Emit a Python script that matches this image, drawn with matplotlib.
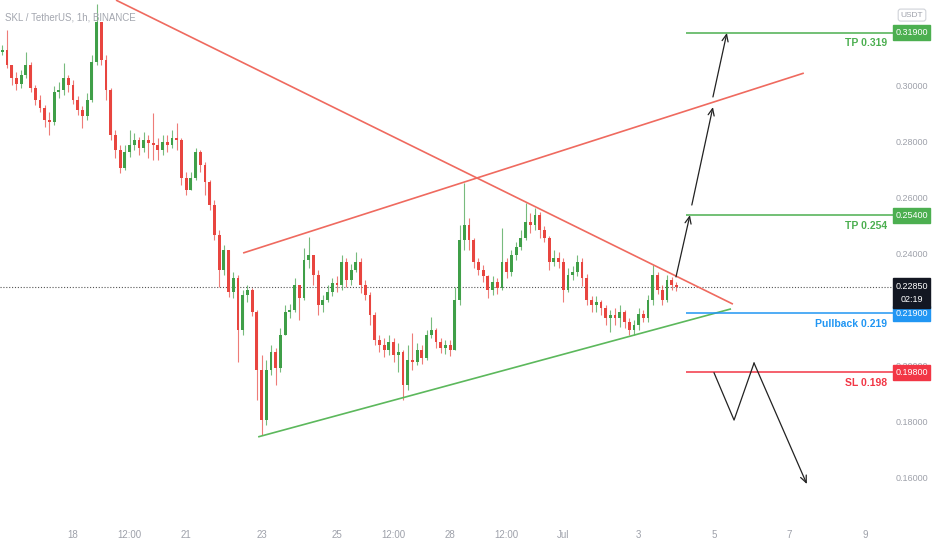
import matplotlib
matplotlib.use("Agg")
import matplotlib.pyplot as plt
from matplotlib.patches import Rectangle
import numpy as np

# SKL/USDT, resampled to 3h candles
# day numbers: Jun 18 = 18, Jul 1 = 31
start_day = 16.125
step = 0.125
first_open = 0.3120

closes = [0.3128, 0.3075, 0.3029, 0.3007, 0.3039, 0.3075, 0.2993, 0.2950, 0.2922, 0.2879,
          0.2872, 0.2979, 0.2986, 0.3029, 0.3004, 0.2950, 0.2914, 0.2893, 0.2950, 0.3085,
          0.3228, 0.3093, 0.2986, 0.2825, 0.2772, 0.2708, 0.2765, 0.2790, 0.2807, 0.2779,
          0.2807, 0.2797, 0.2790, 0.2772, 0.2800, 0.2790, 0.2814, 0.2807, 0.2672, 0.2630,
          0.2672, 0.2765, 0.2719, 0.2658, 0.2576, 0.2469, 0.2345, 0.2416, 0.2266, 0.2316,
          0.2131, 0.2256, 0.2273, 0.2195, 0.1989, 0.1810, 0.1989, 0.2052, 0.1996, 0.2113,
          0.2195, 0.2202, 0.2291, 0.2245, 0.2380, 0.2398, 0.2327, 0.2220, 0.2238, 0.2266,
          0.2298, 0.2291, 0.2373, 0.2309, 0.2345, 0.2373, 0.2291, 0.2256, 0.2184, 0.2095,
          0.2077, 0.2060, 0.2088, 0.2042, 0.2052, 0.1935, 0.2024, 0.2017, 0.2060, 0.2031,
          0.2113, 0.2131, 0.2088, 0.2067, 0.2077, 0.2060, 0.2238, 0.2451, 0.2505, 0.2451,
          0.2373, 0.2345, 0.2323, 0.2273, 0.2302, 0.2280, 0.2373, 0.2337, 0.2398, 0.2427,
          0.2459, 0.2515, 0.2505, 0.2540, 0.2487, 0.2459, 0.2373, 0.2387, 0.2373, 0.2273,
          0.2327, 0.2337, 0.2373, 0.2316, 0.2238, 0.2220, 0.2231, 0.2209, 0.2173, 0.2184,
          0.2173, 0.2195, 0.2159, 0.2131, 0.2149, 0.2188, 0.2173, 0.2238, 0.2327, 0.2273,
          0.2238, 0.2309, 0.2291, 0.2285]

highs = [0.3146, 0.3200, 0.3064, 0.3050, 0.3057, 0.3121, 0.3085, 0.3004, 0.2968, 0.2932,
         0.2907, 0.3000, 0.3014, 0.3082, 0.3039, 0.3021, 0.2964, 0.2929, 0.2975, 0.3111,
         0.3292, 0.3217, 0.3111, 0.2993, 0.2843, 0.2790, 0.2790, 0.2843, 0.2833, 0.2818,
         0.2836, 0.2825, 0.2904, 0.2814, 0.2825, 0.2825, 0.2843, 0.2868, 0.2814, 0.2694,
         0.2694, 0.2779, 0.2772, 0.2729, 0.2665, 0.2594, 0.2487, 0.2434, 0.2416, 0.2337,
         0.2327, 0.2273, 0.2291, 0.2280, 0.2202, 0.2042, 0.2024, 0.2077, 0.2067, 0.2138,
         0.2220, 0.2223, 0.2316, 0.2291, 0.2423, 0.2462, 0.2398, 0.2345, 0.2256, 0.2291,
         0.2316, 0.2323, 0.2398, 0.2387, 0.2366, 0.2409, 0.2387, 0.2309, 0.2266, 0.2195,
         0.2113, 0.2102, 0.2113, 0.2102, 0.2084, 0.2060, 0.2077, 0.2120, 0.2084, 0.2077,
         0.2131, 0.2177, 0.2138, 0.2102, 0.2095, 0.2095, 0.2284, 0.2505, 0.2654, 0.2530,
         0.2459, 0.2387, 0.2362, 0.2327, 0.2323, 0.2316, 0.2494, 0.2387, 0.2416, 0.2444,
         0.2487, 0.2583, 0.2548, 0.2565, 0.2551, 0.2501, 0.2466, 0.2416, 0.2409, 0.2387,
         0.2352, 0.2359, 0.2398, 0.2387, 0.2330, 0.2252, 0.2252, 0.2238, 0.2220, 0.2202,
         0.2209, 0.2220, 0.2202, 0.2173, 0.2166, 0.2209, 0.2202, 0.2256, 0.2362, 0.2337,
         0.2291, 0.2327, 0.2320, 0.2302]

lows = [0.3111, 0.3064, 0.3004, 0.2986, 0.2993, 0.3029, 0.2979, 0.2932, 0.2907, 0.2854,
        0.2825, 0.2861, 0.2957, 0.2968, 0.2979, 0.2936, 0.2897, 0.2850, 0.2879, 0.2943,
        0.3075, 0.3075, 0.2950, 0.2807, 0.2743, 0.2690, 0.2701, 0.2747, 0.2772, 0.2754,
        0.2765, 0.2743, 0.2736, 0.2736, 0.2754, 0.2765, 0.2779, 0.2772, 0.2647, 0.2612,
        0.2630, 0.2665, 0.2694, 0.2612, 0.2558, 0.2451, 0.2285, 0.2327, 0.2248, 0.2245,
        0.2017, 0.2113, 0.2231, 0.2181, 0.1882, 0.1757, 0.1792, 0.1971, 0.1935, 0.1981,
        0.2131, 0.2173, 0.2195, 0.2166, 0.2238, 0.2352, 0.2291, 0.2184, 0.2195, 0.2231,
        0.2252, 0.2266, 0.2273, 0.2284, 0.2291, 0.2337, 0.2263, 0.2238, 0.2149, 0.2077,
        0.2052, 0.2035, 0.2042, 0.2017, 0.1981, 0.1882, 0.1917, 0.1989, 0.2006, 0.2010,
        0.2024, 0.2102, 0.2067, 0.2049, 0.2045, 0.2038, 0.2060, 0.2220, 0.2416, 0.2416,
        0.2352, 0.2327, 0.2302, 0.2245, 0.2256, 0.2259, 0.2273, 0.2316, 0.2323, 0.2380,
        0.2416, 0.2451, 0.2476, 0.2487, 0.2459, 0.2444, 0.2345, 0.2359, 0.2352, 0.2231,
        0.2266, 0.2309, 0.2323, 0.2288, 0.2220, 0.2195, 0.2195, 0.2184, 0.2149, 0.2124,
        0.2149, 0.2142, 0.2138, 0.2113, 0.2113, 0.2131, 0.2159, 0.2159, 0.2220, 0.2259,
        0.2220, 0.2231, 0.2273, 0.2270]

last_price = 0.2285
countdown = "02:19"

# drawings: (day, price)
falling_line = [(19.14, 0.3306), (35.50, 0.2223)]
rising_resistance = [(22.51, 0.2405), (37.38, 0.3046)]
support_line = [(22.91, 0.1750), (35.45, 0.2206)]
level_start = 34.26
levels = [("TP 0.319", 0.319, "0.31900", "#4caf50"),
          ("TP 0.254", 0.254, "0.25400", "#4caf50"),
          ("Pullback 0.219", 0.219, "0.21900", "#2196f3"),
          ("SL 0.198", 0.198, "0.19800", "#f23645")]
up_arrows = [((33.99, 0.2320), (34.36, 0.2540)),
             ((34.41, 0.2576), (34.97, 0.2925)),
             ((34.97, 0.2961), (35.34, 0.3189))]
down_path = [(35.00, 0.1978), (35.53, 0.1810), (36.06, 0.2013), (37.46, 0.1582)]

tick_days = [18, 19.5, 21, 23, 25, 26.5, 28, 29.5, 31, 33, 35, 37, 39]
tick_labels = ["18", "12:00", "21", "23", "25", "12:00", "28", "12:00", "Jul", "3", "5", "7", "9"]
price_ticks = [0.30, 0.28, 0.26, 0.24, 0.20, 0.18, 0.16]

FONT = ["Liberation Sans", "DejaVu Sans"]
GREEN = "#3f9f48"
RED = "#e8453f"
GREY = "#9ea1aa"

fig = plt.figure(figsize=(9.32, 5.5), dpi=100)
ax = fig.add_axes([0, 30 / 550, 893 / 932, 520 / 550])
xmin, xmax = 16.064, 39.745
ax.set_xlim(xmin, xmax)
ax.set_ylim(0.14539, 0.33064)
for s in ax.spines.values():
    s.set_visible(False)
ax.set_yticks([])

# candles
closes = np.array(closes)
opens = np.concatenate([[first_open], closes[:-1]])
highs = np.maximum(np.array(highs), np.maximum(opens, closes))
lows = np.minimum(np.array(lows), np.minimum(opens, closes))
days = start_day + step * np.arange(len(closes))
colors = np.where(closes >= opens, GREEN, RED)
ax.vlines(days, lows, highs, colors=colors, lw=0.8, alpha=0.7, zorder=2)
ax.bar(days, np.maximum(np.abs(closes - opens), 0.0004), bottom=np.minimum(opens, closes),
       width=step * 0.6, color=colors, zorder=3)

# last price dotted line
ax.axhline(last_price, color="#555555", lw=0.8, ls=(0, (1, 1.6)), zorder=1)

# trend lines
for line, c in [(falling_line, "#ef6a5f"), (rising_resistance, "#ef6a5f"), (support_line, "#5cb85c")]:
    (x0, y0), (x1, y1) = line
    ax.plot([x0, x1], [y0, y1], color=c, lw=1.2, zorder=4, solid_capstyle="butt")

# levels with labels and price boxes
ytr = ax.get_yaxis_transform()
for label, price, box_text, c in levels:
    ax.hlines(price, level_start, xmax, color=c, lw=1.1, zorder=4)
    ax.annotate(label, xy=(887 / 893, price), xycoords=ytr, xytext=(0, -7.5),
                textcoords="offset points", ha="right", va="center", color=c,
                fontsize=7.5, fontweight="bold", family=FONT)

# arrows
for (x0, y0), (x1, y1) in up_arrows:
    ax.annotate("", xy=(x1, y1), xytext=(x0, y0),
                arrowprops=dict(arrowstyle="->,head_length=0.5,head_width=0.22",
                                color="#222222", lw=0.9, shrinkA=0, shrinkB=0), zorder=5)
px = [p[0] for p in down_path]
py = [p[1] for p in down_path]
ax.plot(px[:-1], py[:-1], color="#222222", lw=0.9, zorder=5)
ax.annotate("", xy=down_path[-1], xytext=down_path[-2],
            arrowprops=dict(arrowstyle="->,head_length=0.5,head_width=0.22",
                            color="#222222", lw=0.9, shrinkA=0, shrinkB=0), zorder=5)

# right price scale
for p in price_ticks:
    ax.text(1.0213, p, "%.5f" % p, transform=ytr, ha="center", va="center",
            fontsize=6.5, color=GREY, family=FONT, clip_on=False, zorder=5)

box_w = 37 / 893
box_h = 0.0053
for label, price, box_text, c in levels:
    ax.add_patch(Rectangle((1.0, price - box_h / 2), box_w, box_h, transform=ytr,
                           color=c, clip_on=False, zorder=6))
    ax.text(1.0 + box_w / 2, price, box_text, transform=ytr, ha="center", va="center",
            fontsize=6.5, color="white", family=FONT, clip_on=False, zorder=7)
ax.add_patch(Rectangle((1.0, 0.2209), box_w, 0.0107, transform=ytr,
                       color="#131722", clip_on=False, zorder=6))
ax.text(1.0 + box_w / 2, last_price, "%.5f" % last_price, transform=ytr, ha="center",
        va="center", fontsize=6.5, color="white", family=FONT, clip_on=False, zorder=7)
ax.text(1.0 + box_w / 2, 0.2239, countdown, transform=ytr, ha="center",
        va="center", fontsize=6.5, color="white", family=FONT, clip_on=False, zorder=7)

ax.text(912 / 893, 0.971, "USDT", transform=ax.transAxes, ha="center", va="center",
        fontsize=6, color=GREY, family=FONT, clip_on=False,
        bbox=dict(boxstyle="round,pad=0.3", fc="white", ec="#cfd2d8", lw=0.8))

# time axis
ax.set_xticks(tick_days)
ax.set_xticklabels(tick_labels, fontsize=7, color=GREY, family=FONT)
ax.tick_params(axis="x", length=0, pad=7)

fig.text(5 / 932, 1 - 17 / 550, "SKL / TetherUS, 1h, BINANCE", ha="left", va="center",
         fontsize=7, color="#a3a6af", family=FONT)

fig.savefig("out.png", dpi=100)
